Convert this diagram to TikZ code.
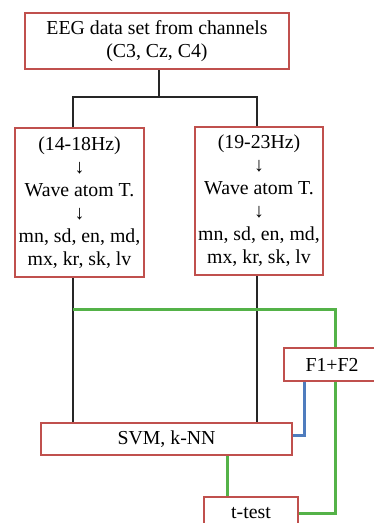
\documentclass[tikz,border=0pt]{standalone}
\usepackage{fontspec}
\setmainfont{Liberation Serif}
\definecolor{boxred}{RGB}{192,80,77}
\definecolor{lgreen}{RGB}{84,178,72}
\definecolor{lblue}{RGB}{79,124,190}
\begin{document}
\begin{tikzpicture}[x=1pt,y=-1pt,
  box/.style={draw=boxred,line width=2pt,fill=white,align=center,inner sep=0pt,
    font=\fontsize{19.8}{23}\selectfont},
  blk/.style={draw=black!85,line width=2.2pt},
  grn/.style={draw=lgreen,line width=3pt},
  blu/.style={draw=lblue,line width=3pt}]
\useasboundingbox (0,0) rectangle (374,523);
\clip (0,0) rectangle (374,523);
\node[box,minimum width=264pt,minimum height=56pt] (top) at (157,41) {EEG data set from channels\\(C3, Cz, C4)};
\node[box,minimum width=129pt,minimum height=149pt] (left) at (79.5,202.5) {(14-18Hz)\\↓\\Wave atom T.\\↓\\mn, sd, en, md,\\mx, kr, sk, lv};
\node[box,minimum width=128pt,minimum height=148pt] (right) at (259,201) {(19-23Hz)\\↓\\Wave atom T.\\↓\\mn, sd, en, md,\\mx, kr, sk, lv};
\node[box,minimum width=96pt,minimum height=33pt] (f12) at (332,364.5) {F1+F2};
\node[box,minimum width=251pt,minimum height=32pt] (svm) at (166.5,439) {SVM, k-NN};
\node[box,minimum width=94pt,minimum height=32pt] (tt) at (251,513) {t-test};
\coordinate (j) at (159,97);
\coordinate (g1) at (73,309);
\coordinate (g2) at (335,309);
% black tree
\draw[blk] ([xshift=2pt]top.south) -- (j);
\draw[blk] ([xshift=-6.5pt]left.north) |- (j) -| ([xshift=-2pt]right.north);
\draw[blk] ([xshift=-6.5pt]left.south) -- ([xshift=-6.5pt]left.south |- svm.north);
\draw[blk] ([xshift=-2pt]right.south) -- ([xshift=-2pt]right.south |- svm.north);
% green lines
\draw[grn] (g1) -- (g2) -- (g2 |- f12.north);
\draw[grn] (tt.east) -| (g2 |- f12.south);
\draw[grn] ([xshift=60.5pt]svm.south) -- ([xshift=60.5pt]svm.south |- tt.north);
% blue line
\draw[blu] ([xshift=-28pt]f12.south) |- ([yshift=3.5pt]svm.east);
\end{tikzpicture}
\end{document}
